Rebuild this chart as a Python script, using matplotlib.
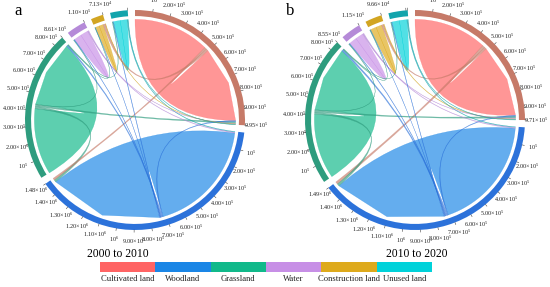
import numpy as np
import matplotlib
matplotlib.use("Agg")
import matplotlib.pyplot as plt
from matplotlib.patches import PathPatch, Wedge
from matplotlib.path import Path

plt.rcParams['font.family'] = ['Liberation Serif', 'DejaVu Serif']
plt.rcParams['mathtext.default'] = 'regular'

# land classes, clockwise from the top of the circle
names = ["Cultivated land", "Woodland", "Grassland", "Water", "Construction land", "Unused land"]
fill_colors = ["#FF6464", "#1A86E6", "#10B98A", "#C78FE6", "#DEAA1C", "#00D2DA"]
ring_colors = ["#C67A68", "#2C72DA", "#2E9C7E", "#B58AD8", "#D2A522", "#12A4AC"]

# sector totals, in thousands
totals_a = [995, 1480, 861, 110, 71.3, 100]
totals_b = [971, 1490, 855, 115, 96.6, 110]

# flows between classes, in thousands
flow_from = [0, 1, 2, 3, 4, 5, 0, 0, 1, 2, 3, 4, 5, 2, 1, 1, 1, 1, 2, 2, 2, 5, 3]
flow_to   = [0, 1, 2, 3, 4, 5, 1, 4, 0, 0, 0, 0, 0, 1, 2, 3, 4, 5, 3, 4, 5, 1, 1]
values_a = [471.5, 710.5, 409, 47.5, 25.15, 42, 12, 14, 6, 11, 3, 3, 3, 14, 8, 3, 2, 4, 4, 2, 4, 5, 5]
values_b = [456.5, 711.5, 404.5, 49, 36.8, 46.5, 16, 12, 6, 11, 4, 5, 4, 14, 10, 4, 3, 4, 4, 3, 4, 5, 5]

# order of the flows along each sector, clockwise (self flows come twice)
slot_order = [
    [0, 6, 7, 0, 8, 9, 10, 11, 12],
    [21, 22, 1, 8, 14, 15, 16, 17, 1, 13, 6],
    [2, 13, 9, 18, 2, 14, 19, 20],
    [18, 15, 3, 3, 10, 22],
    [19, 16, 4, 4, 7, 11],
    [20, 17, 5, 5, 21, 12],
]

RING_OUT = 1.0
RING_IN = 0.945
RIBBON = 0.915
LABEL_R = 1.10
GAP = 3.8


def tick_label(v):
    if v == 100:
        return "10$^5$"
    if v == 1000:
        return "10$^6$"
    if v < 100:
        return f"{v / 10:.2f}×10$^4$"
    if v < 1000:
        return f"{v / 100:.2f}×10$^5$"
    return f"{v / 1000:.2f}×10$^6$"


def arc_points(r, a0, a1, n):
    t = np.radians(np.linspace(a0, a1, n))
    return list(zip(r * np.cos(t), r * np.sin(t)))


def ribbon_path(arc1, arc2):
    verts = list(arc1)
    codes = [Path.MOVETO] + [Path.LINETO] * (len(arc1) - 1)
    verts += [(0, 0), arc2[0]]
    codes += [Path.CURVE3, Path.CURVE3]
    verts += list(arc2[1:])
    codes += [Path.LINETO] * (len(arc2) - 1)
    verts += [(0, 0), arc1[0]]
    codes += [Path.CURVE3, Path.CURVE3]
    return Path(verts, codes)


def draw_chord(ax, totals, values):
    scale = (360 - GAP * len(totals)) / sum(totals)
    start = 90.0
    slots = {}
    for i, total in enumerate(totals):
        end = start - total * scale
        ax.add_patch(Wedge((0, 0), RING_OUT, end, start, width=RING_OUT - RING_IN,
                           color=ring_colors[i], lw=0))
        # ticks and their labels
        ticks = list(np.arange(100, total, 100))
        if i == 3 or i == 4:
            ticks = []
        ticks = ticks + [total]
        for v in ticks:
            ang = np.radians(start - v * scale)
            c, s = np.cos(ang), np.sin(ang)
            ax.plot([c, 1.02 * c], [s, 1.02 * s], color="#444444", lw=0.4)
            if i != 5:
                ax.text(LABEL_R * c, LABEL_R * s, tick_label(v), fontsize=4.4, color="#222222",
                        ha="center", va="center")
        # positions of the flows inside the sector
        pos = 0.0
        for f in slot_order[i]:
            a0 = start - pos * scale
            a1 = start - (pos + values[f]) * scale
            slots.setdefault(f, []).append((a0, a1))
            pos += values[f]
        start = end - GAP

    # self flows first, thin flows on top of them
    for f in sorted(slots, key=lambda k: -values[k]):
        first, second = slots[f]
        src = flow_from[f]
        is_self = flow_from[f] == flow_to[f]
        n2 = 3 if is_self and values[f] > 100 else 12
        n1 = 24 if values[f] > 20 else 4
        path = ribbon_path(arc_points(RIBBON, first[0], first[1], n1),
                           arc_points(RIBBON, second[0], second[1], n2))
        if is_self:
            ax.add_patch(PathPatch(path, facecolor=fill_colors[src], edgecolor=fill_colors[src],
                                   lw=0.2, alpha=0.68))
        else:
            ax.add_patch(PathPatch(path, facecolor=ring_colors[src], edgecolor=ring_colors[src],
                                   lw=0.2, alpha=0.65))

    ax.set_xlim(-1.2, 1.2)
    ax.set_ylim(-1.2, 1.2)
    ax.axis("off")


fig = plt.figure(figsize=(5.5, 2.87), dpi=100)

half = 132
ax_a = fig.add_axes([(135 - half) / 550, 1 - (120 + half) / 287, 2 * half / 550, 2 * half / 287])
draw_chord(ax_a, totals_a, values_a)
ax_b = fig.add_axes([(415 - half) / 550, 1 - (120 + half) / 287, 2 * half / 550, 2 * half / 287])
draw_chord(ax_b, totals_b, values_b)

# legend strip
ax_leg = fig.add_axes([100 / 550, 1 - 272 / 287, 332 / 550, 10.5 / 287])
ax_leg.bar(range(len(names)), [1] * len(names), width=1.0, color=fill_colors)
ax_leg.set_xlim(-0.5, len(names) - 0.5)
ax_leg.set_ylim(0, 1)
ax_leg.set_yticks([])
ax_leg.set_xticks(range(len(names)))
ax_leg.set_xticklabels(names, fontsize=6.2, color="#222222")
ax_leg.tick_params(axis="x", length=0, pad=2.5)
for spine in ax_leg.spines.values():
    spine.set_visible(False)

fig.text(18 / 550, 1 - 11 / 287, "a", fontsize=12, ha="center", va="center")
fig.text(290 / 550, 1 - 11 / 287, "b", fontsize=12, ha="center", va="center")
fig.text(118 / 550, 1 - 254 / 287, "2000 to 2010", fontsize=8.4, ha="center", va="center")
fig.text(417 / 550, 1 - 254 / 287, "2010 to 2020", fontsize=8.4, ha="center", va="center")

fig.savefig("out.png", dpi=100)
